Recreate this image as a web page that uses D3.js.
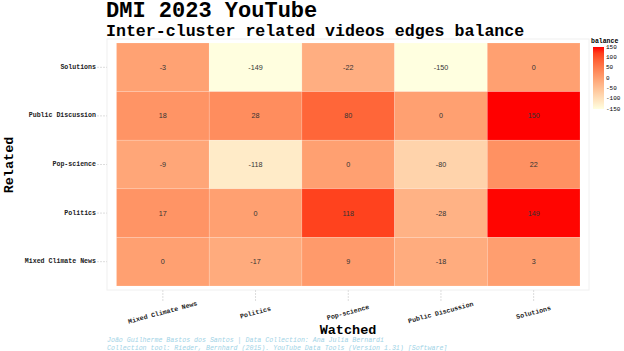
<!DOCTYPE html>
<html lang="en">
<head>
  <meta charset="utf-8">
  <title>DMI 2023 YouTube</title>
  <script src="https://d3js.org/d3.v7.min.js"></script>
  <style>
    body { margin: 0; background: #fff; }
    svg { font-family: "Liberation Mono", "DejaVu Sans Mono", monospace; }
    .cell-label { font-family: "Liberation Sans", Arial, sans-serif; font-size: 7.2px; fill: #333; }
    .axis-lab { font-size: 6.6px; font-weight: bold; fill: #222; }
  </style>
</head>
<body>
<script>
  // categories (same list on both axes)
  const watched = ["Mixed Climate News", "Politics", "Pop-science", "Public Discussion", "Solutions"];
  const related = ["Solutions", "Public Discussion", "Pop-science", "Politics", "Mixed Climate News"];

  // balance values, one row per related cluster, columns follow `watched`
  const rowSolutions = [-3, -149, -22, -150, 0];
  const rowPublicDiscussion = [18, 28, 80, 0, 150];
  const rowPopScience = [-9, -118, 0, -80, 22];
  const rowPolitics = [17, 0, 118, -28, 149];
  const rowMixed = [0, -17, 9, -18, 3];

  const legendTicks = [150, 100, 50, 0, -50, -100, -150];

  const rows = [rowSolutions, rowPublicDiscussion, rowPopScience, rowPolitics, rowMixed];
  const cells = [];
  related.forEach((r, i) => {
    rows[i].forEach((v, j) => cells.push({ related: r, watched: watched[j], value: v }));
  });

  const W = 624, H = 351;
  const svg = d3.select("body").append("svg")
    .attr("width", W)
    .attr("height", H);

  const x = d3.scaleBand().domain(watched).range([116.5, 580]);
  const y = d3.scaleBand().domain(related).range([43, 286]);

  const color = d3.scaleSequential(d3.interpolateLab("#FFFFE0", "#FF0000"))
    .domain([-150, 150]);

  // panel border
  svg.append("rect")
    .attr("x", 107).attr("y", 39)
    .attr("width", 482).attr("height", 251)
    .attr("fill", "none")
    .attr("stroke", "#f0f0f0")
    .attr("stroke-width", 1);

  // tick marks (dotted, light)
  svg.selectAll(".xtick")
    .data(watched)
    .enter().append("line")
    .attr("x1", d => x(d) + x.bandwidth() / 2)
    .attr("x2", d => x(d) + x.bandwidth() / 2)
    .attr("y1", 290).attr("y2", 302)
    .attr("stroke", "#ddd")
    .attr("stroke-dasharray", "2,1");

  svg.selectAll(".ytick")
    .data(related)
    .enter().append("line")
    .attr("y1", d => y(d) + y.bandwidth() / 2)
    .attr("y2", d => y(d) + y.bandwidth() / 2)
    .attr("x1", 97).attr("x2", 107)
    .attr("stroke", "#ddd")
    .attr("stroke-dasharray", "2,1");

  // tiles
  svg.selectAll(".tile")
    .data(cells)
    .enter().append("rect")
    .attr("class", "tile")
    .attr("x", d => x(d.watched))
    .attr("y", d => y(d.related))
    .attr("width", x.bandwidth())
    .attr("height", y.bandwidth())
    .attr("fill", d => color(d.value))
    .attr("stroke", "rgba(255,255,255,0.25)")
    .attr("stroke-width", 0.6);

  svg.selectAll(".cell-label")
    .data(cells)
    .enter().append("text")
    .attr("class", "cell-label")
    .attr("x", d => x(d.watched) + x.bandwidth() / 2)
    .attr("y", d => y(d.related) + y.bandwidth() / 2)
    .attr("text-anchor", "middle")
    .attr("dominant-baseline", "central")
    .text(d => d.value);

  // y labels
  svg.selectAll(".ylab")
    .data(related)
    .enter().append("text")
    .attr("class", "axis-lab")
    .attr("x", 96)
    .attr("y", d => y(d) + y.bandwidth() / 2)
    .attr("text-anchor", "end")
    .attr("dominant-baseline", "central")
    .text(d => d);

  // x labels, tilted
  svg.selectAll(".xlab")
    .data(watched)
    .enter().append("text")
    .attr("class", "axis-lab")
    .attr("transform", d => "translate(" + (x(d) + x.bandwidth() / 2) + ",313) rotate(-15)")
    .attr("text-anchor", "middle")
    .attr("dominant-baseline", "central")
    .text(d => d);

  // axis titles
  svg.append("text")
    .attr("x", 348).attr("y", 334)
    .attr("text-anchor", "middle")
    .attr("font-size", 13.5)
    .attr("font-weight", "bold")
    .text("Watched");

  svg.append("text")
    .attr("transform", "translate(13,165) rotate(-90)")
    .attr("text-anchor", "middle")
    .attr("font-size", 13.5)
    .attr("font-weight", "bold")
    .text("Related");

  // titles
  svg.append("text")
    .attr("x", 106).attr("y", 17)
    .attr("font-size", 22)
    .attr("font-weight", "bold")
    .text("DMI 2023 YouTube");

  svg.append("text")
    .attr("x", 106).attr("y", 36)
    .attr("font-size", 16.6)
    .attr("font-weight", "bold")
    .text("Inter-cluster related videos edges balance");

  // caption
  const caption = ["João Guilherme Bastos dos Santos | Data Collection: Ana Julia Bernardi",
    "Collection tool: Rieder, Bernhard (2015). YouTube Data Tools (Version 1.31) [Software]"];
  svg.selectAll(".cap")
    .data(caption)
    .enter().append("text")
    .attr("x", 107)
    .attr("y", (d, i) => 342 + i * 8)
    .attr("font-size", 6.6)
    .attr("font-style", "italic")
    .attr("fill", "#9fd3e6")
    .text(d => d);

  // legend
  const legY = d3.scaleLinear().domain([150, -150]).range([47, 109]);
  const defs = svg.append("defs");
  const grad = defs.append("linearGradient")
    .attr("id", "leg-grad")
    .attr("x1", 0).attr("x2", 0).attr("y1", 0).attr("y2", 1);
  d3.range(0, 1.001, 0.1).forEach(t => {
    grad.append("stop")
      .attr("offset", t)
      .attr("stop-color", color(150 - t * 300));
  });

  svg.append("text")
    .attr("x", 591).attr("y", 43)
    .attr("font-size", 6.5)
    .attr("font-weight", "bold")
    .text("balance");

  svg.append("rect")
    .attr("x", 593).attr("y", legY(150))
    .attr("width", 11)
    .attr("height", legY(-150) - legY(150))
    .attr("fill", "url(#leg-grad)");

  svg.selectAll(".legtick")
    .data(legendTicks)
    .enter().append("text")
    .attr("x", 606)
    .attr("y", d => legY(d))
    .attr("font-size", 6)
    .attr("dominant-baseline", "central")
    .text(d => d);
</script>
</body>
</html>
